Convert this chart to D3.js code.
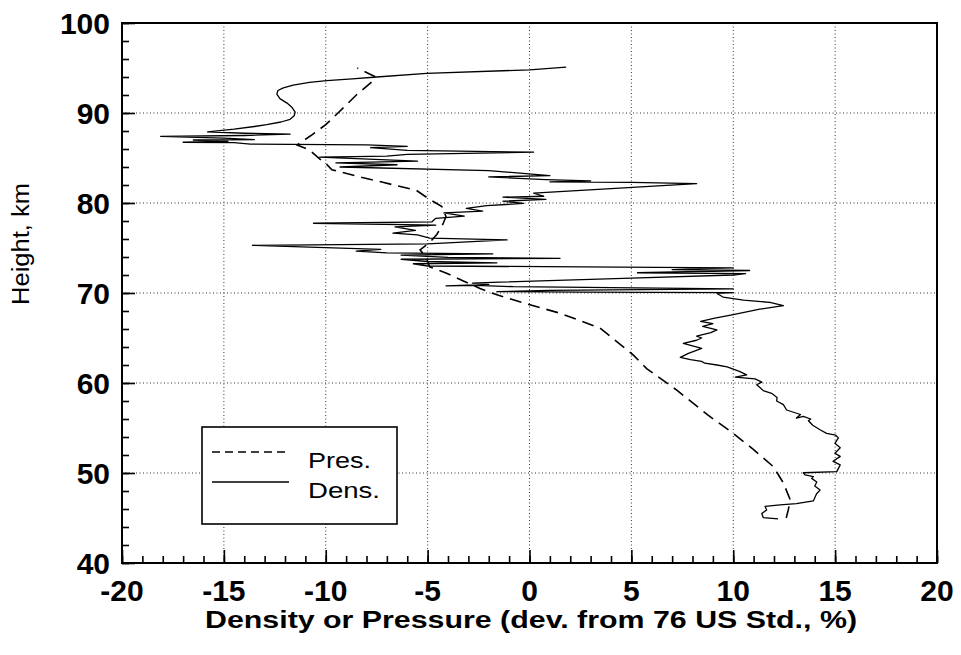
<!DOCTYPE html>
<html>
<head>
<meta charset="utf-8">
<script src="https://cdn.jsdelivr.net/npm/d3@7"></script>
<style>
  body { margin: 0; background: #fff; }
  svg { display: block; }
</style>
</head>
<body>
<svg id="chart" width="961" height="655"></svg>
<script>
// Axis ticks
const xMajorTicks = [-20, -15, -10, -5, 0, 5, 10, 15, 20];
const yMajorTicks = [40, 50, 60, 70, 80, 90, 100];
const xGrid = [-15, -10, -5, 0, 5, 10, 15];
const yGrid = [50, 60, 70, 80, 90];

// Pressure deviation profile (height km, deviation %)
const presHeight = [45.0, 45.9, 47.0, 48.9, 50.7, 52.6, 54.4, 56.4, 59.2, 61.6, 63.1, 66.1, 67.75, 68.7, 69.8, 70.5, 71.4, 72.2, 72.9, 73.9, 74.8, 75.6, 76.5, 77.7, 78.5, 79.6, 80.4, 81.4, 82.3, 82.9, 83.7, 84.4, 84.9, 85.9, 86.45, 87.6, 88.7, 90.0, 92.0, 93.6, 94.0, 94.5, 95.0];
const presDev = [12.6, 12.7, 12.8, 12.46, 11.97, 11.0, 10.0, 8.78, 7.23, 5.75, 5.1, 3.46, 1.5, 0.02, -1.6, -2.43, -3.3, -4.07, -4.9, -5.06, -5.37, -4.9, -4.55, -4.24, -4.1, -4.3, -4.9, -5.55, -7.2, -8.35, -9.7, -10.0, -10.3, -10.8, -11.4, -10.66, -10.0, -9.4, -8.5, -7.67, -7.55, -8.0, -8.45];

// Density deviation profile (height km, deviation %)
const densHeight = [
  44.9, 45.05, 45.5, 45.9, 46.3, 46.45, 46.6, 46.9, 47.7, 48.1, 48.55, 49.0, 49.4, 49.6, 49.8, 50.03,
  50.15, 50.9, 51.3, 51.85, 52.2, 52.8, 53.3, 53.9, 54.2, 54.4, 54.8, 55.3, 55.8, 56.0, 56.3, 56.1, 56.5,
  57.0, 57.6, 58.0, 58.4, 58.85, 59.15, 59.5, 59.8, 60.1, 60.45, 60.65, 60.9, 61.3, 61.8,
  62.0, 62.2, 62.4, 62.6, 62.85, 63.3, 63.85, 64.4, 64.75, 65.0, 65.2, 65.6, 65.9, 66.3, 66.6, 66.85, 67.2, 67.6,
  68.2, 68.6, 68.95, 69.2, 69.55, 69.95,
  70.05, 70.1, 70.15, 70.3, 70.45, 70.7, 70.85, 70.8, 70.95, 71.1, 71.2, 71.65, 72.0, 72.15, 72.25, 72.5, 72.6, 72.8,
  73.0, 73.25, 73.35, 73.5, 73.75, 73.85, 73.95, 74.2, 74.35, 74.45, 74.65, 74.85, 75.3, 75.45, 75.9, 76.1,
  76.45, 76.65, 76.95, 77.35, 77.55, 77.75, 77.9, 78.3, 78.55, 78.9, 79.1, 79.4, 79.7, 79.95,
  80.2, 80.4, 80.65, 80.75, 81.1, 81.6, 82.15, 82.3, 82.35, 82.45, 82.6, 82.9, 83.05, 83.6, 84.0,
  84.25, 84.45, 84.65, 85.1, 85.2, 85.4, 85.65, 85.85, 86.15, 86.3, 86.45, 86.55, 86.7, 86.75, 86.85,
  87.0, 87.05, 87.2, 87.4, 87.5, 87.65, 87.75, 87.9,
  88.2, 88.5, 88.7, 89.0, 89.3, 89.7, 90.1, 90.6, 91.1, 91.6, 92.1, 92.5, 92.8, 93.1, 93.4, 93.6, 93.8,
  94.0, 94.4, 94.8, 95.1
];
const densDev = [
  12.2, 11.47, 11.4, 11.64, 11.56, 12.3, 13.1, 13.93, 14.09, 14.26, 14.0, 14.1, 13.85, 13.93, 13.52, 13.44,
  15.08, 15.25, 14.9, 15.25, 14.99, 15.25, 14.99, 15.16, 15.03, 14.58, 14.26, 13.9, 13.69, 13.8, 13.44, 13.1, 13.3,
  12.62, 12.46, 12.13, 12.15, 11.88, 11.47, 11.31, 11.15, 11.4, 11.07, 10.1, 10.66, 10.3, 9.7,
  9.2, 8.6, 8.45, 7.9, 7.4, 7.8, 8.45, 7.55, 8.2, 8.45, 8.2, 8.9, 9.2, 8.5, 9.0, 8.4, 9.1, 10.0,
  11.3, 12.46, 11.8, 10.5, 9.5, 9.2,
  10.0, 2.5, -1.6, 1.0, 10.0, -0.8, -2.6, -4.1, -2.0, -2.8, -1.5, 5.0, 10.0, 10.6, 5.3, 10.8, 7.0, 10.0,
  -5.0, -5.7, -1.6, -5.0, -6.3, 1.5, -4.0, -6.3, -1.8, -7.0, -8.5, -7.3, -13.6, -5.0, -1.1, -4.9,
  -5.5, -6.7, -5.6, -6.6, -4.6, -10.6, -4.8, -4.6, -3.2, -4.2, -2.3, -3.1, -2.1, -0.3,
  -1.3, 0.8, -1.3, 0.7, 0.2, 4.0, 8.2, 5.0, 1.0, 3.0, 0.8, -2.0, 1.0, -2.0, -9.3,
  -6.5, -9.5, -5.5, -10.3, -7.0, -6.0, 0.2, -6.0, -7.8, -6.0, -8.0, -13.7, -14.5, -17.0, -14.8,
  -16.5, -13.5, -15.0, -18.1, -14.0, -11.75, -14.0, -15.8,
  -14.5, -13.5, -12.9, -12.2, -11.75, -11.55, -11.5, -11.65, -11.9, -12.25, -12.4, -12.35, -12.08, -11.6, -10.8, -9.95, -8.7,
  -7.5, -5.05, 0.0, 1.8
];

const seriesLabels = ["Pres.", "Dens."];
const xTitle = "Density or Pressure (dev. from 76 US Std., %)";
const yTitle = "Height, km";

const svg = d3.select("#chart");
const font = "'Liberation Sans', Arial, Helvetica, sans-serif";

const x = d3.scaleLinear().domain([-20, 20]).range([122, 937]);
const y = d3.scaleLinear().domain([40, 100]).range([563, 23]);

// Dotted grid at the major ticks
const grid = svg.append("g").attr("stroke", "#333").attr("stroke-width", 1)
  .attr("stroke-dasharray", "1,2.5").attr("fill", "none");
grid.selectAll("line.gx").data(xGrid).join("line")
  .attr("x1", d => x(d)).attr("x2", d => x(d))
  .attr("y1", y(100)).attr("y2", y(40));
grid.selectAll("line.gy").data(yGrid).join("line")
  .attr("x1", x(-20)).attr("x2", x(20))
  .attr("y1", d => y(d)).attr("y2", d => y(d));

// Inward ticks: major and minor
function tickAxis(axis, transform) {
  const g = svg.append("g").attr("transform", transform).call(axis);
  g.select(".domain").remove();
  g.selectAll("line").attr("stroke", "#000").attr("stroke-width", 1.6);
  g.selectAll("text").remove();
  return g;
}
tickAxis(d3.axisBottom(x).tickValues(d3.range(-20, 20.01, 1)).tickSize(-7), `translate(0,${y(40)})`);
tickAxis(d3.axisBottom(x).tickValues(xMajorTicks).tickSize(-13), `translate(0,${y(40)})`);
tickAxis(d3.axisLeft(y).tickValues(d3.range(40, 100.01, 2)).tickSize(-7), `translate(${x(-20)},0)`);
tickAxis(d3.axisLeft(y).tickValues(yMajorTicks).tickSize(-13), `translate(${x(-20)},0)`);

// Frame
svg.append("rect")
  .attr("x", x(-20)).attr("y", y(100))
  .attr("width", x(20) - x(-20)).attr("height", y(40) - y(100))
  .attr("fill", "none").attr("stroke", "#000").attr("stroke-width", 2);

// Tick labels
svg.append("g").selectAll("text").data(xMajorTicks).join("text")
  .attr("x", d => x(d)).attr("y", 601)
  .attr("text-anchor", "middle")
  .attr("font-family", font).attr("font-weight", "bold").attr("font-size", 30)
  .text(d => d);
svg.append("g").selectAll("text").data(yMajorTicks).join("text")
  .attr("x", 110).attr("y", d => y(d) + 11)
  .attr("text-anchor", "end")
  .attr("font-family", font).attr("font-weight", "bold").attr("font-size", 30)
  .text(d => d);

// Axis titles
svg.append("text")
  .attr("x", 531).attr("y", 628)
  .attr("text-anchor", "middle")
  .attr("font-family", font).attr("font-weight", "bold").attr("font-size", 23)
  .attr("textLength", 652).attr("lengthAdjust", "spacingAndGlyphs")
  .text(xTitle);
svg.append("text")
  .attr("transform", "translate(29,244) rotate(-90)")
  .attr("text-anchor", "middle")
  .attr("font-family", font).attr("font-size", 23)
  .attr("textLength", 122).attr("lengthAdjust", "spacingAndGlyphs")
  .text(yTitle);

// Profiles
const presPts = presHeight.map((h, i) => [presDev[i], h]);
const densPts = densHeight.map((h, i) => [densDev[i], h]);
const line = d3.line().x(d => x(d[0])).y(d => y(d[1]));

svg.append("path").datum(presPts)
  .attr("d", line).attr("fill", "none")
  .attr("stroke", "#000").attr("stroke-width", 1.6)
  .attr("stroke-dasharray", "12,7");
svg.append("path").datum(densPts)
  .attr("d", line).attr("fill", "none")
  .attr("stroke", "#000").attr("stroke-width", 1.3)
  .attr("stroke-linejoin", "round");

// Legend
const lg = svg.append("g");
lg.append("rect").attr("x", 202).attr("y", 427).attr("width", 195).attr("height", 97)
  .attr("fill", "#fff").attr("stroke", "#000").attr("stroke-width", 1.6);
const legendDash = ["8,5", null];
const legendY = [452, 482];
seriesLabels.forEach((lab, i) => {
  lg.append("line").attr("x1", 212).attr("x2", 289)
    .attr("y1", legendY[i]).attr("y2", legendY[i])
    .attr("stroke", "#000").attr("stroke-width", 1.3)
    .attr("stroke-dasharray", legendDash[i]);
  lg.append("text").attr("x", 308).attr("y", legendY[i] + 16)
    .attr("font-family", font).attr("font-size", 22)
    .attr("textLength", i === 0 ? 63 : 72).attr("lengthAdjust", "spacingAndGlyphs")
    .text(lab);
});
</script>
</body>
</html>
